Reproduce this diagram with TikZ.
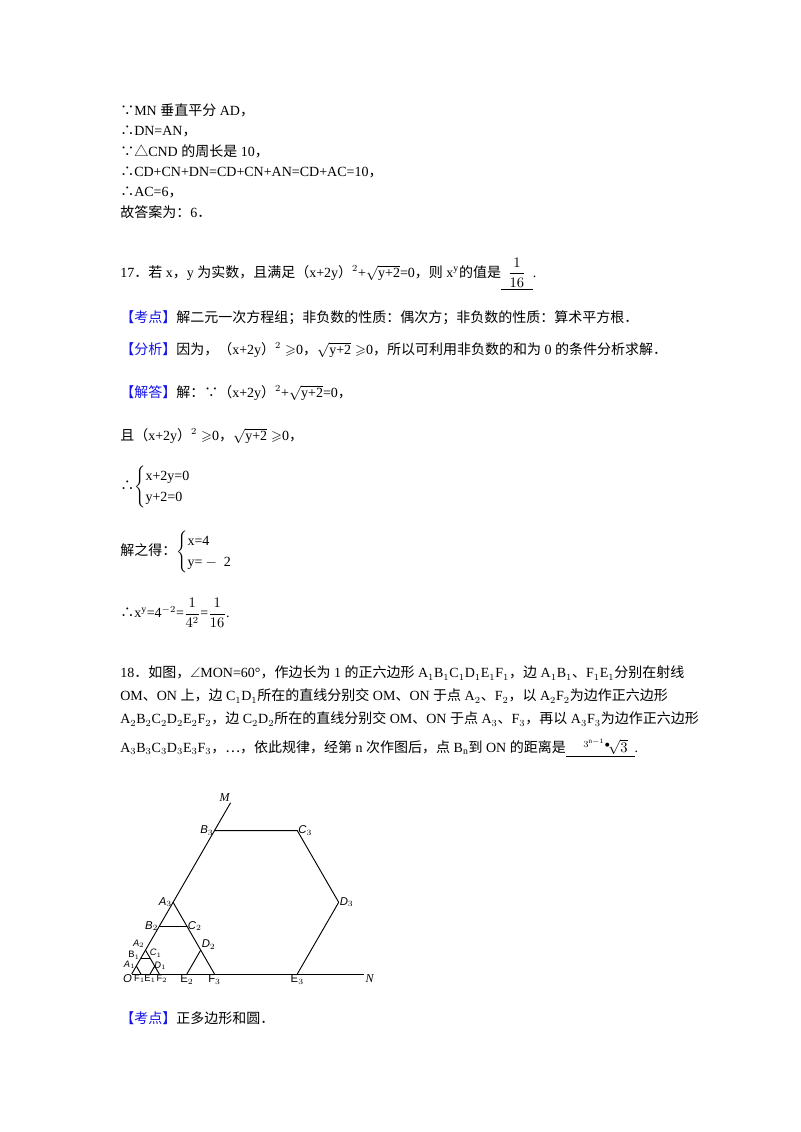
\documentclass[tikz,border=0pt]{standalone}
\usepackage{amsmath,amssymb}
\usepackage{fontspec}
\setmainfont{Liberation Serif}
\newfontfamily\cjk{Noto Sans CJK SC}
\newfontfamily\lab{Liberation Sans}
\newcommand\zh[1]{{\cjk #1}}
\definecolor{kblue}{RGB}{20,20,230}
\begin{document}
\begin{tikzpicture}[x=0.75pt,y=-0.75pt,
  txt/.style={anchor=west,inner sep=0pt,font=\fontsize{10.5}{13}\selectfont},
  lbl/.style={inner sep=0.6pt,font=\lab\fontsize{8.5}{10}\selectfont\itshape},
  lblu/.style={inner sep=0.6pt,font=\lab\fontsize{8.5}{10}\selectfont},
  sm/.style={font=\lab\fontsize{7}{8}\selectfont},
  smi/.style={font=\lab\fontsize{7}{8}\selectfont\itshape},
  seg/.style={line width=0.7pt}]
\useasboundingbox (0,0) rectangle (800,1132);
\fill[white] (0,0) rectangle (800,1132);
\node[txt] (t1) at (120,110) {\zh{∵}MN \zh{垂直平分} AD\zh{，}};
\node[txt] (t2) at (120,131) {\zh{∴}DN=AN\zh{，}};
\node[txt] (t3) at (120,151) {\zh{∵△}CND \zh{的周长是} 10\zh{，}};
\node[txt] (t4) at (120,172) {\zh{∴}CD+CN+DN=CD+CN+AN=CD+AC=10\zh{，}};
\node[txt] (t5) at (120,192) {\zh{∴}AC=6\zh{，}};
\node[txt] (t6) at (120,212) {\zh{故答案为：}6\zh{．}};
\node[txt] (t7) at (120,274) {17\zh{．若} x\zh{，}y \zh{为实数，且满足（}x+2y\zh{）}$^{2}$+$\sqrt{\text{y+2}}$=0\zh{，则} x$^{\text{y}}$\zh{的值是}\underline{\ \ $\dfrac{1}{16}$\ \ }.};
\node[txt] (t8) at (120,318) {\textcolor{kblue}{\zh{【考点】}}\zh{解二元一次方程组；非负数的性质：偶次方；非负数的性质：算术平方根．}};
\node[txt] (t9) at (120,350) {\textcolor{kblue}{\zh{【分析】}}\zh{因为，（}x+2y\zh{）}$^{2}\geqslant$0\zh{，}$\sqrt{\text{y+2}}\geqslant$0\zh{，所以可利用非负数的和为} 0 \zh{的条件分析求解．}};
\node[txt] (t10) at (120,393) {\textcolor{kblue}{\zh{【解答】}}\zh{解：∵（}x+2y\zh{）}$^{2}$+$\sqrt{\text{y+2}}$=0\zh{，}};
\node[txt] (t11) at (120,436) {\zh{且（}x+2y\zh{）}$^{2}\geqslant$0\zh{，}$\sqrt{\text{y+2}}\geqslant$0\zh{，}};
\node[txt] (t12) at (120,487) {\zh{∴}$\begin{cases}\text{x+2y=0}\\ \text{y+2=0}\end{cases}$};
\node[txt] (t13) at (120,552) {\zh{解之得：}$\begin{cases}\text{x=4}\\ \text{y=}-\text{ 2}\end{cases}$};
\node[txt] (t14) at (120,613) {\zh{∴}x$^{\text{y}}$=4$^{-2}$=$\dfrac{1}{4^2}$=$\dfrac{1}{16}$.};
\node[txt] (t15) at (120,673) {18\zh{．如图，}$\angle$MON=60°\zh{，作边长为} 1 \zh{的正六边形} A$_1$B$_1$C$_1$D$_1$E$_1$F$_1$\zh{，边} A$_1$B$_1$\zh{、}F$_1$E$_1$\zh{分别在射线}};
\node[txt] (t16) at (120,696) {OM\zh{、}ON \zh{上，边} C$_1$D$_1$\zh{所在的直线分别交} OM\zh{、}ON \zh{于点} A$_2$\zh{、}F$_2$\zh{，以} A$_2$F$_2$\zh{为边作正六边形}};
\node[txt] (t19) at (120,719) {A$_2$B$_2$C$_2$D$_2$E$_2$F$_2$\zh{，边} C$_2$D$_2$\zh{所在的直线分别交} OM\zh{、}ON \zh{于点} A$_3$\zh{、}F$_3$\zh{，再以} A$_3$F$_3$\zh{为边作正六边形}};
\node[txt] (t20) at (120,748) {A$_3$B$_3$C$_3$D$_3$E$_3$F$_3$\zh{，…，依此规律，经第} n \zh{次作图后，点} B$_\text{n}$\zh{到} ON \zh{的距离是}\underline{\ \ \ \ \ $^{3^{\text{n}-1}\bullet}\!\sqrt{3}$\ \ }.};
\node[txt] (t21) at (120,1018) {\textcolor{kblue}{\zh{【考点】}}\zh{正多边形和圆．}};
% figure
\begin{scope}[shift={(131.7,974)},x=6.9pt,y=6.9pt]
\def\r{0.8660254}
\coordinate (O) at (0,0);
\coordinate (M) at (60:21.5);
\coordinate (N) at (25.3,0);
\coordinate (A1) at (60:1); \coordinate (B1) at (60:2);
\coordinate (C1) at (2,2*\r); \coordinate (D1) at (2.5,\r);
\coordinate (E1) at (2,0); \coordinate (F1) at (1,0);
\coordinate (A2) at (60:3); \coordinate (B2) at (60:6);
\coordinate (C2) at (6,6*\r); \coordinate (D2) at (7.5,3*\r);
\coordinate (E2) at (6,0); \coordinate (F2) at (3,0);
\coordinate (A3) at (60:9); \coordinate (B3) at (60:18);
\coordinate (C3) at (18,18*\r); \coordinate (D3) at (22.5,9*\r);
\coordinate (E3) at (18,0); \coordinate (F3) at (9,0);
\draw[seg] (O) -- (M);
\draw[seg] (O) -- (N);
\draw[seg] (A1) -- (F1);
\draw[seg] (B1) -- (C1);
\draw[seg] (A2) -- (F2);
\draw[seg] (D1) -- (E1);
\draw[seg] (B2) -- (C2);
\draw[seg] (A3) -- (F3);
\draw[seg] (D2) -- (E2);
\draw[seg] (B3) -- (C3) -- (D3) -- (E3);
\node[lbl,anchor=south east,font=\itshape\fontsize{9}{10}\selectfont] (lM) at (M) {M};
\node[lbl,anchor=north west,font=\itshape\fontsize{9}{10}\selectfont] (lN) at (N) {N};
\node[lbl,anchor=north east] (lO) at ([xshift=1pt]O) {O};
\node[lbl,smi,anchor=east] (lA1) at ([yshift=1pt]A1) {A$_1$};
\node[lblu,sm,anchor=east] (lB1) at ([yshift=2pt]B1) {B$_1$};
\node[lbl,smi,anchor=south west] (lC1) at ([xshift=-1pt]C1) {C$_1$};
\node[lbl,smi,anchor=west] (lD1) at ([xshift=-1pt]D1) {D$_1$};
\node[lblu,sm,anchor=north] (lE1) at (E1) {E$_1$};
\node[lblu,sm,anchor=north] (lF1) at ([xshift=-1pt]F1) {F$_1$};
\node[lblu,sm,anchor=north] (lF2) at ([xshift=2pt]F2) {F$_2$};
\node[lbl,smi,anchor=south east] (lA2) at ([yshift=1pt]A2) {A$_2$};
\node[lbl,anchor=east] (lB2) at (B2) {B$_2$};
\node[lbl,anchor=west] (lC2) at (C2) {C$_2$};
\node[lbl,anchor=south west] (lD2) at (D2) {D$_2$};
\node[lblu,anchor=north] (lE2) at (E2) {E$_2$};
\node[lbl,anchor=east] (lA3) at (A3) {A$_3$};
\node[lbl,anchor=east] (lB3) at (B3) {B$_3$};
\node[lbl,anchor=west] (lC3) at (C3) {C$_3$};
\node[lbl,anchor=west] (lD3) at (D3) {D$_3$};
\node[lblu,anchor=north] (lE3) at (E3) {E$_3$};
\node[lblu,anchor=north] (lF3) at (F3) {F$_3$};
\end{scope}
\end{tikzpicture}
\end{document}
